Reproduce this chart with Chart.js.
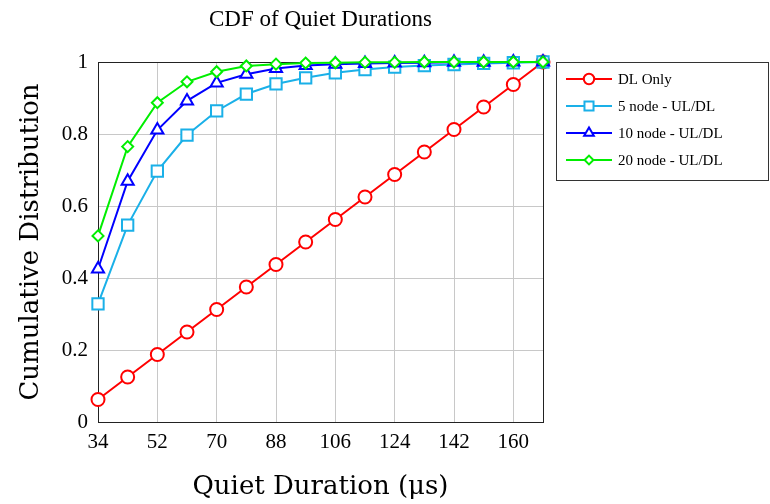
<!DOCTYPE html>
<html>
<head>
<meta charset="utf-8">
<script src="https://cdn.jsdelivr.net/npm/chart.js@4"></script>
<style>
  html, body { margin: 0; padding: 0; background: #fff; }
  #wrap { width: 770px; height: 504px; }
</style>
</head>
<body>
<div id="wrap"><canvas id="grafico"></canvas></div>
<script>
// durations in microseconds
const duracoes = [34, 43, 52, 61, 70, 79, 88, 97, 106, 115, 124, 133, 142, 151, 160, 169];
const xTicks = [34, 52, 70, 88, 106, 124, 142, 160];
const yTicks = [0, 0.2, 0.4, 0.6, 0.8, 1];

const dlOnly = [0.0625, 0.125, 0.1875, 0.25, 0.3125, 0.375, 0.4375, 0.5, 0.5625, 0.625, 0.6875, 0.75, 0.8125, 0.875, 0.9375, 1];
const node5 = [0.328, 0.547, 0.697, 0.797, 0.864, 0.911, 0.939, 0.956, 0.970, 0.979, 0.986, 0.990, 0.993, 0.996, 0.998, 1];
const node10 = [0.425, 0.669, 0.811, 0.892, 0.942, 0.966, 0.982, 0.990, 0.994, 0.996, 0.997, 0.998, 0.999, 0.999, 1, 1];
const node20 = [0.517, 0.765, 0.887, 0.945, 0.973, 0.989, 0.994, 0.997, 0.998, 0.999, 0.999, 1, 1, 1, 1, 1];

const nomes = ['DL Only', '5 node - UL/DL', '10 node - UL/DL', '20 node - UL/DL'];
const cores = ['#ff0000', '#1ab0e8', '#0000ff', '#00ee00'];
const marcadores = ['circle', 'rect', 'triangle', 'rectRot'];
const raios = [6.5, 8, 7, 5.5];
const series = [dlOnly, node5, node10, node20];

const serif = "'Liberation Serif', 'DejaVu Serif', serif";
const serifLargo = "'DejaVu Serif', serif";

function pares(vals) {
    return vals.map((v, i) => ({ x: duracoes[i], y: v }));
}

const datasets = series.map((vals, i) => ({
    label: nomes[i],
    data: pares(vals),
    borderColor: cores[i],
    backgroundColor: '#fff',
    pointBackgroundColor: '#fff',
    pointBorderColor: cores[i],
    pointStyle: marcadores[i],
    pointRadius: raios[i],
    pointBorderWidth: 2,
    borderWidth: 2,
    tension: 0,
    clip: false,
    order: series.length - i // ultima serie fica por cima
}));

// titulo, borda e legenda desenhados a mao
const extras = {
    id: 'extras',
    beforeDatasetsDraw(chart) {
        const c = chart.ctx;
        const a = chart.chartArea;
        c.save();
        c.strokeStyle = '#222';
        c.lineWidth = 1;
        c.strokeRect(a.left + 0.5, a.top + 0.5, a.right - a.left, a.bottom - a.top);
        c.restore();
    },
    afterDraw(chart) {
        const c = chart.ctx;
        const a = chart.chartArea;
        c.save();
        c.fillStyle = '#000';
        c.font = '23px ' + serif;
        c.textAlign = 'center';
        c.textBaseline = 'middle';
        c.fillText('CDF of Quiet Durations', (a.left + a.right) / 2, 20);

        // legenda
        const lx = 556, ly = 62, lw = 212, lh = 118;
        c.fillStyle = '#fff';
        c.fillRect(lx, ly, lw, lh);
        c.strokeStyle = '#333';
        c.lineWidth = 1;
        c.strokeRect(lx + 0.5, ly + 0.5, lw, lh);
        const ys = [79, 106, 133, 160];
        chart.data.datasets.forEach((ds, i) => {
            const y = ys[i];
            c.strokeStyle = ds.borderColor;
            c.lineWidth = 2;
            c.beginPath();
            c.moveTo(lx + 10, y);
            c.lineTo(lx + 56, y);
            c.stroke();
            c.fillStyle = '#fff';
            Chart.helpers.drawPoint(c, {
                pointStyle: ds.pointStyle,
                radius: raios[i] * 0.8,
                borderWidth: 2,
                rotation: 0
            }, lx + 33, y);
            c.fillStyle = '#000';
            c.font = '15px ' + serif;
            c.textAlign = 'left';
            c.fillText(ds.label, lx + 62, y + 1);
        });
        c.restore();
    }
};

new Chart(document.getElementById('grafico'), {
    type: 'line',
    data: { datasets: datasets },
    options: {
        responsive: true,
        maintainAspectRatio: false,
        animation: false,
        layout: { padding: { top: 62, right: 227, left: 0, bottom: 0 } },
        plugins: {
            legend: { display: false },
            title: { display: false },
            tooltip: { enabled: false }
        },
        scales: {
            x: {
                type: 'linear',
                min: 34,
                max: 169,
                afterBuildTicks: (s) => { s.ticks = xTicks.map(v => ({ value: v })); },
                afterFit: (s) => { s.height = 82; },
                grid: { color: '#c8c8c8', lineWidth: 1, drawTicks: false },
                border: { display: false },
                ticks: {
                    color: '#000',
                    padding: 8,
                    maxRotation: 0,
                    font: { family: serif, size: 21 }
                },
                title: {
                    display: true,
                    text: 'Quiet Duration (μs)',
                    color: '#000',
                    padding: { top: 11, bottom: 1 },
                    font: { family: serifLargo, size: 26 }
                }
            },
            y: {
                min: 0,
                max: 1,
                afterBuildTicks: (s) => { s.ticks = yTicks.map(v => ({ value: v })); },
                afterFit: (s) => { s.width = 98; },
                grid: { color: '#c8c8c8', lineWidth: 1, drawTicks: false },
                border: { display: false },
                ticks: {
                    color: '#000',
                    padding: 10,
                    font: { family: serif, size: 21 },
                    callback: (v) => String(Math.round(v * 10) / 10)
                },
                title: {
                    display: true,
                    text: 'Cumulative Distribution',
                    color: '#000',
                    padding: { top: 16, bottom: 2 },
                    font: { family: serifLargo, size: 26 }
                }
            }
        }
    },
    plugins: [extras]
});
</script>
</body>
</html>
